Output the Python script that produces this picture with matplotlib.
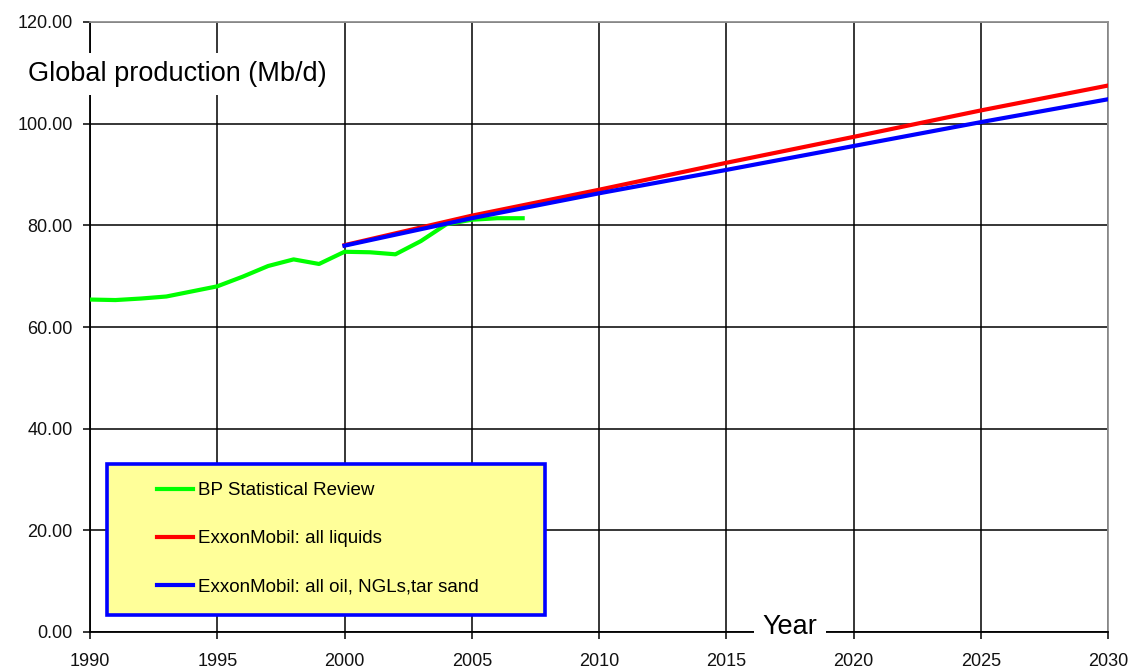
import matplotlib
matplotlib.use("Agg")
import matplotlib.pyplot as plt
from matplotlib.patches import Rectangle
from matplotlib.ticker import FormatStrFormatter

plt.rcParams['font.family'] = ['Liberation Sans', 'DejaVu Sans']

bp_years = [1990, 1991, 1992, 1993, 1994, 1995, 1996, 1997, 1998, 1999,
            2000, 2001, 2002, 2003, 2004, 2005, 2006, 2007]
bp_values = [65.4, 65.3, 65.6, 66.0, 67.0, 68.0, 69.9, 72.0, 73.3, 72.4,
             74.8, 74.7, 74.3, 76.9, 80.2, 81.1, 81.4, 81.4]

xom_years = [2000, 2005, 2010, 2015, 2020, 2025, 2030]
xom_liquids = [76.1, 81.9, 87.0, 92.3, 97.4, 102.6, 107.5]
xom_oil = [76.0, 81.4, 86.3, 90.9, 95.6, 100.3, 104.8]

labels = ["BP Statistical Review", "ExxonMobil: all liquids",
          "ExxonMobil: all oil, NGLs,tar sand"]
x_ticks = list(range(1990, 2031, 5))
y_ticks = list(range(0, 121, 20))

W, H = 1132, 671
fig = plt.figure(figsize=(W / 100, H / 100), dpi=100)
L, R, B, T = 90, 1108, 632, 22
ax = fig.add_axes([L / W, (H - B) / H, (R - L) / W, (B - T) / H])

ax.set_xlim(1990, 2030)
ax.set_ylim(0, 120)
ax.set_xticks(x_ticks)
ax.set_yticks(y_ticks)
ax.yaxis.set_major_formatter(FormatStrFormatter('%.2f'))
ax.grid(True, color='black', linewidth=1.1, zorder=0)
ax.set_axisbelow(True)
ax.tick_params(axis='both', direction='out', length=5, width=1.1,
               labelsize=13, color='black', labelcolor='#111111')
ax.tick_params(axis='x', pad=10)
ax.tick_params(axis='y', pad=7.5)
for s in ['left', 'bottom']:
    ax.spines[s].set_color('black')
    ax.spines[s].set_linewidth(1.3)
for s in ['top', 'right']:
    ax.spines[s].set_color('#909090')
    ax.spines[s].set_linewidth(1.3)

l1, = ax.plot(bp_years, bp_values, color='#00FF00', lw=3, zorder=3)
l2, = ax.plot(xom_years, xom_liquids, color='#FF0000', lw=3, zorder=4)
l3, = ax.plot(xom_years, xom_oil, color='#0000FF', lw=3, zorder=5)

def ax_frac(px, py):
    return ((px - L) / (R - L), (B - py) / (B - T))

x0, y0 = ax_frac(107, 615)
x1, y1 = ax_frac(545, 464)
rect = Rectangle((x0, y0), x1 - x0, y1 - y0, transform=ax.transAxes,
                 facecolor='#FFFF99', edgecolor='#0000FF', lw=2.6,
                 zorder=6, clip_on=False)
ax.add_patch(rect)
lx, ly = ax_frac(157, 482)
leg = ax.legend([l1, l2, l3], labels, loc='upper left',
                bbox_to_anchor=(lx, ly), frameon=False, fontsize=13.5,
                handlelength=1.9, handletextpad=0.28, labelspacing=1.65,
                borderpad=0, borderaxespad=0)
leg.set_zorder(7)

tx, ty = ax_frac(28, 74)
ax.text(tx, ty, "Global production (Mb/d)", transform=ax.transAxes,
        fontsize=19.5, ha='left', va='center', zorder=8, clip_on=False,
        bbox=dict(facecolor='white', edgecolor='none', pad=6))
yx, yy = ax_frac(790, 627)
ax.text(yx, yy, "Year", transform=ax.transAxes, fontsize=19.5,
        ha='center', va='center', zorder=8, clip_on=False,
        bbox=dict(facecolor='white', edgecolor='none', pad=6))

fig.savefig("out.png", dpi=100)
